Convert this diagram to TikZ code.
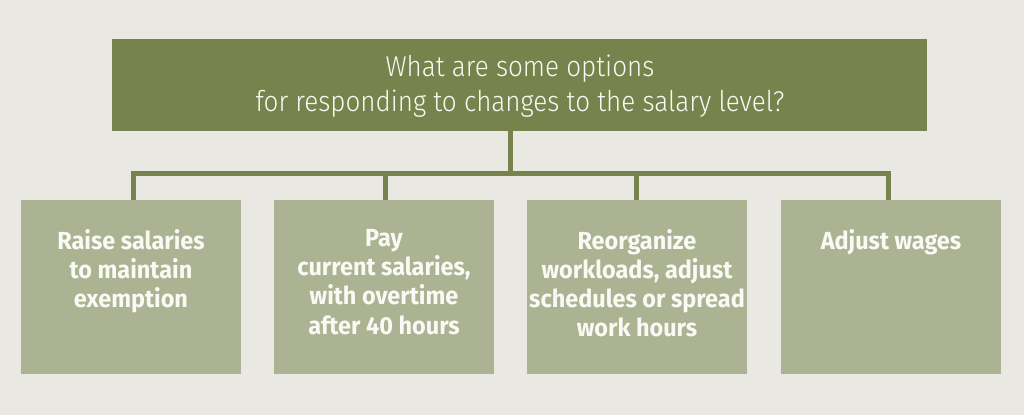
\documentclass[tikz,border=0pt]{standalone}
\usepackage{fontspec}
\setmainfont{Fira Sans}
\newfontfamily\topfont{Fira Sans Light}[FakeStretch=0.91]
\newfontfamily\boxfont{Fira Sans}[FakeStretch=0.95,UprightFont=* Bold]
\definecolor{bgc}{RGB}{233,232,226}
\definecolor{darkolive}{RGB}{118,131,76}
\definecolor{lightolive}{RGB}{171,179,147}
\definecolor{txt}{RGB}{250,250,244}
\begin{document}
\begin{tikzpicture}[x=1pt,y=1pt,
  topbox/.style={fill=darkolive, draw=none, minimum width=815pt, minimum height=92pt, inner sep=0pt},
  optbox/.style={fill=lightolive, draw=none, minimum width=220pt, minimum height=174pt, inner sep=0pt},
  toptext/.style={text=txt, font=\topfont\fontsize{28.6}{35}\selectfont, align=center, inner sep=0pt},
  opttext/.style={text=txt, font=\boxfont\fontsize{24.7}{29.3}\selectfont, align=center, inner sep=0pt},
  conn/.style={draw=darkolive, line width=5pt, line join=miter}]
\fill[bgc] (0,0) rectangle (1024,-415);
\useasboundingbox (0,0) rectangle (1024,-415);
\node[topbox] (top) at (519.5,-85) {};
\node[toptext, anchor=north] (toplbl) at (520,-55) {What are some options\\for responding to changes to the salary level?};
\node[optbox] (b1) at (131,-287) {};
\node[optbox] (b2) at (384,-287) {};
\node[optbox] (b3) at (637,-287) {};
\node[optbox] (b4) at (891,-287) {};
\node[opttext, anchor=north] (t1) at ([yshift=-29pt]b1.north) {Raise salaries\\to maintain\\exemption};
\node[opttext, anchor=north] (t2) at ([yshift=-29pt]b2.north) {Pay\\current salaries,\\with overtime\\after 40 hours};
\node[opttext, anchor=north] (t3) at ([yshift=-29pt]b3.north) {Reorganize\\workloads, adjust\\schedules or spread\\work hours};
\node[opttext, anchor=north] (t4) at ([yshift=-29pt]b4.north) {Adjust wages};
\coordinate (j) at (510.5,-173.5);
\draw[conn] (top.south -| j) -- (j);
\draw[conn] ([xshift=2pt]b1.north) |- (j) -| ([xshift=-3pt]b4.north);
\draw[conn] ([xshift=1pt]b2.north) -- ([xshift=1pt]b2.north |- j);
\draw[conn] ([xshift=-1pt]b3.north) -- ([xshift=-1pt]b3.north |- j);
\end{tikzpicture}
\end{document}
